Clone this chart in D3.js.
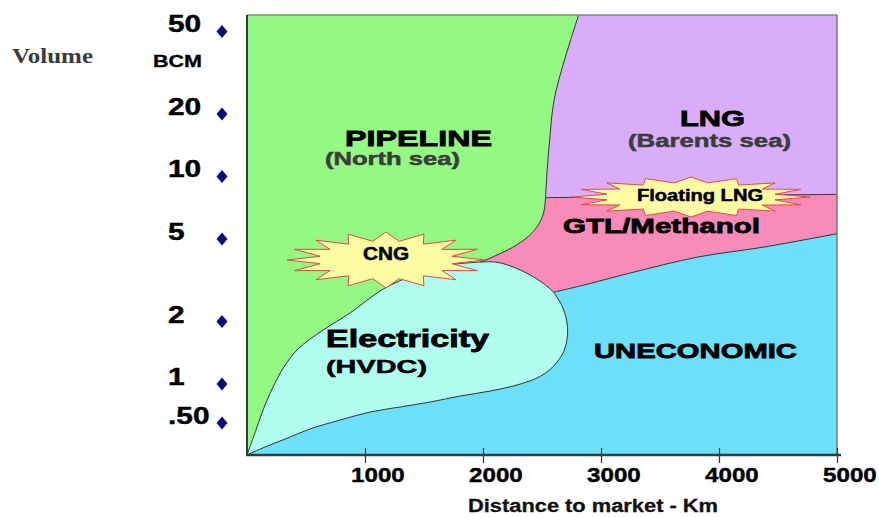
<!DOCTYPE html>
<html>
<head>
<meta charset="utf-8">
<script src="https://cdn.jsdelivr.net/npm/d3@7"></script>
<style>
  body { margin: 0; background: #ffffff; }
  text { font-family: "Liberation Sans", Arial, sans-serif; font-weight: bold; }
</style>
</head>
<body>
<script>
// ---- Data: distance to market (km) vs volume (BCM), log-scaled volume ----
const xTicks = [1000, 2000, 3000, 4000, 5000];
const yTicks = [0.5, 1, 2, 5, 10, 20, 50];
const yTickLabels = [".50", "1", "2", "5", "10", "20", "50"];

// Boundaries between transport options, as [km, BCM] points
const lngPipelineEdge = [[2810, 60], [2740, 45], [2675, 34], [2620, 26], [2590, 21], [2565, 15], [2545, 11], [2530, 7.9]];
const lngGtlEdge = [[2530, 7.9], [3200, 8.0], [4100, 8.1], [5000, 8.2]];
const pipelineGtlEdge = [[2530, 7.9], [2515, 6.75], [2470, 5.85], [2385, 5.15], [2250, 4.55], [2105, 4.15], [1980, 3.87]];
const hvdcGtlEdge = [[1980, 3.87], [2105, 3.87], [2207, 3.75], [2317, 3.54], [2428, 3.28], [2530, 3.0], [2598, 2.77]];
const gtlUneconomicEdge = [[2598, 2.77], [2827, 2.97], [3251, 3.43], [3820, 4.09], [4380, 4.57], [5000, 5.3]];
const hvdcUneconomicEdge = [[2598, 2.77], [2666, 2.40], [2708, 2.03], [2716, 1.72], [2683, 1.43], [2598, 1.22], [2487, 1.09],
  [2317, 1.0], [2063, 0.883], [1808, 0.808], [1553, 0.726], [1299, 0.665], [1044, 0.608], [789, 0.527], [535, 0.455],
  [323, 0.387], [153, 0.341], [0, 0.3]];
const pipelineHvdcEdge = [[0, 0.3], [76, 0.447], [153, 0.689], [229, 0.982], [314, 1.21], [432, 1.475], [645, 1.82],
  [874, 2.20], [1155, 2.87], [1443, 3.39], [1723, 3.75], [1980, 3.87]];

// Callout bursts: centre in [km, BCM]
const bursts = [
  { name: "CNG", at: [1178, 3.96] },
  { name: "Floating LNG", at: [3763, 7.96] }
];

// ---- Layout ----
const W = 879, H = 518;
const plot = { left: 247, right: 837, top: 15, bottom: 455 };

const svg = d3.select("body").append("svg").attr("width", W).attr("height", H);

const x = d3.scaleLinear().domain([0, 5000]).range([plot.left, plot.right]);
// hand-spaced volume axis: log steps, with the bottom decade compressed
const y = d3.scaleLog().domain([0.3, 0.5, 1, 60]).range([plot.bottom, 423, 384, plot.top]);

const line = d3.line().x(d => x(d[0])).y(d => y(d[1])).curve(d3.curveCatmullRom.alpha(0.5));
const straight = d3.line().x(d => x(d[0])).y(d => y(d[1]));
const rev = a => a.slice().reverse();
const seg = (pts, first) => { const s = line(pts); return first ? s : s.replace(/^M/, "L"); };
const edge = (pts, first) => { const s = straight(pts); return first ? s : s.replace(/^M/, "L"); };

const colors = {
  uneconomic: "#6ddff8",
  pipeline: "#93f982",
  lng: "#daadfb",
  gtl: "#f88bb8",
  hvdc: "#b0fcee"
};

// Uneconomic background
svg.append("rect")
  .attr("x", x(0)).attr("y", y(60))
  .attr("width", x(5000) - x(0)).attr("height", y(0.3) - y(60))
  .attr("fill", colors.uneconomic);

const regions = [
  { fill: colors.pipeline, d: edge([[0, 60], lngPipelineEdge[0]], true) + seg(lngPipelineEdge) + seg(pipelineGtlEdge) + seg(rev(pipelineHvdcEdge)) + "Z" },
  { fill: colors.lng, d: edge([lngPipelineEdge[0], [5000, 60], [5000, 8.2]], true) + seg(rev(lngGtlEdge)) + seg(rev(lngPipelineEdge)) + "Z" },
  { fill: colors.gtl, d: seg(lngGtlEdge, true) + edge([[5000, 8.2], [5000, 5.3]]) + seg(rev(gtlUneconomicEdge)) + seg(rev(hvdcGtlEdge)) + seg(rev(pipelineGtlEdge)) + "Z" },
  { fill: colors.hvdc, d: seg(pipelineHvdcEdge, true) + seg(hvdcGtlEdge) + seg(hvdcUneconomicEdge) + "Z" }
];
svg.selectAll("path.region").data(regions).join("path")
  .attr("class", "region").attr("d", d => d.d).attr("fill", d => d.fill);

// Boundary lines
[lngPipelineEdge, lngGtlEdge, pipelineGtlEdge, hvdcGtlEdge, gtlUneconomicEdge, hvdcUneconomicEdge, pipelineHvdcEdge]
  .forEach(e => svg.append("path").attr("d", line(e)).attr("fill", "none")
    .attr("stroke", "#333").attr("stroke-width", 1));

// Frame
svg.append("line").attr("x1", plot.left).attr("x2", plot.right).attr("y1", plot.top).attr("y2", plot.top)
  .attr("stroke", "#888").attr("stroke-width", 1.5);
svg.append("line").attr("x1", plot.right).attr("x2", plot.right).attr("y1", plot.top).attr("y2", plot.bottom)
  .attr("stroke", "#777").attr("stroke-width", 1.5);
svg.append("line").attr("x1", plot.left).attr("x2", plot.left).attr("y1", plot.top).attr("y2", plot.bottom + 1)
  .attr("stroke", "#2e3c3c").attr("stroke-width", 2);

// X axis
const xAxis = svg.append("g").attr("transform", `translate(0,${plot.bottom})`)
  .call(d3.axisBottom(x).tickValues(xTicks).tickSizeOuter(0).tickSize(8).tickFormat(""));
xAxis.select(".domain").remove();
xAxis.selectAll(".tick line").attr("y1", -7).attr("y2", 8).attr("stroke", "#333").attr("stroke-width", 1.2);
svg.append("line").attr("x1", plot.left - 1).attr("x2", plot.right + 4).attr("y1", plot.bottom).attr("y2", plot.bottom)
  .attr("stroke", "#2d3e46").attr("stroke-width", 2.5);

svg.selectAll("text.xlab").data(xTicks).join("text")
  .attr("class", "xlab")
  .attr("transform", d => `translate(${x(d) - 14},482) scale(1.24,1)`)
  .attr("font-size", 19.5).attr("fill", "#000")
  .attr("stroke", "#000").attr("stroke-width", 0.4)
  .text(d => d);

svg.append("text").attr("x", 468).attr("y", 512).attr("font-size", 18)
  .attr("textLength", 250).attr("lengthAdjust", "spacingAndGlyphs")
  .attr("fill", "#111").attr("stroke", "#111").attr("stroke-width", 0.3)
  .text("Distance to market - Km");

// Y axis: diamonds and labels
svg.selectAll("path.ydot").data(yTicks).join("path")
  .attr("class", "ydot")
  .attr("d", d => `M222,${y(d) - 6.5}L227.5,${y(d)}L222,${y(d) + 6.5}L216.5,${y(d)}Z`)
  .attr("fill", "#0a0a78");
svg.selectAll("text.ylab").data(yTicks).join("text")
  .attr("class", "ylab")
  .attr("transform", d => `translate(168,${y(d) + 1}) scale(1.3,1)`)
  .attr("font-size", 23).attr("fill", "#000")
  .attr("stroke", "#000").attr("stroke-width", 0.4)
  .text((d, i) => yTickLabels[i]);

svg.append("text").attr("x", 12).attr("y", 63).attr("font-size", 20)
  .style("font-family", "'Liberation Serif', 'Times New Roman', serif")
  .attr("textLength", 81).attr("lengthAdjust", "spacingAndGlyphs")
  .attr("fill", "#3a3a3a").text("Volume");
svg.append("text").attr("x", 153).attr("y", 67).attr("font-size", 16)
  .attr("textLength", 49).attr("lengthAdjust", "spacingAndGlyphs")
  .attr("fill", "#000").attr("stroke", "#000").attr("stroke-width", 0.3).text("BCM");

// Bursts
const burstShape = [
  { rx: 99, ry: 28, inner: 0.68, n: 16 },
  { rx: 119, ry: 20, inner: 0.72, n: 16 }
];
bursts.forEach((b, i) => {
  const s = burstShape[i];
  const cx = x(b.at[0]), cy = y(b.at[1]);
  const pts = d3.range(s.n * 2).map(k => {
    const a = Math.PI * k / s.n;
    const r = k % 2 === 0 ? 1 : s.inner;
    return [cx + Math.cos(a) * s.rx * r, cy + Math.sin(a) * s.ry * r];
  });
  svg.append("path").attr("d", d3.line()(pts) + "Z")
    .attr("fill", "#fdfca2").attr("stroke", "#e04a4a").attr("stroke-width", 1);
});

// Region labels
const labels = [
  { t: "PIPELINE", x: 345, y: 146, s: 22, w: 147, c: "#000" },
  { t: "(North sea)", x: 325, y: 165, s: 18, w: 135, c: "#3c3c3c" },
  { t: "LNG", x: 680, y: 126, s: 22, w: 65, c: "#000" },
  { t: "(Barents sea)", x: 628, y: 147, s: 18, w: 163, c: "#3c3c3c" },
  { t: "Floating LNG", x: 637, y: 201, s: 16, w: 126, c: "#000" },
  { t: "GTL/Methanol", x: 563, y: 233, s: 21, w: 197, c: "#000" },
  { t: "CNG", x: 363, y: 260, s: 18, w: 46, c: "#000" },
  { t: "Electricity", x: 326, y: 347, s: 23, w: 163, c: "#000" },
  { t: "(HVDC)", x: 326, y: 373, s: 19, w: 101, c: "#000" },
  { t: "UNECONOMIC", x: 594, y: 358, s: 21, w: 203, c: "#000" }
];
svg.selectAll("text.rlab").data(labels).join("text")
  .attr("class", "rlab")
  .attr("x", d => d.x).attr("y", d => d.y).attr("font-size", d => d.s)
  .attr("textLength", d => d.w).attr("lengthAdjust", "spacingAndGlyphs")
  .attr("fill", d => d.c).attr("stroke", d => d.c).attr("stroke-width", d => d.s > 20 ? 0.8 : 0.5)
  .text(d => d.t);
</script>
</body>
</html>
